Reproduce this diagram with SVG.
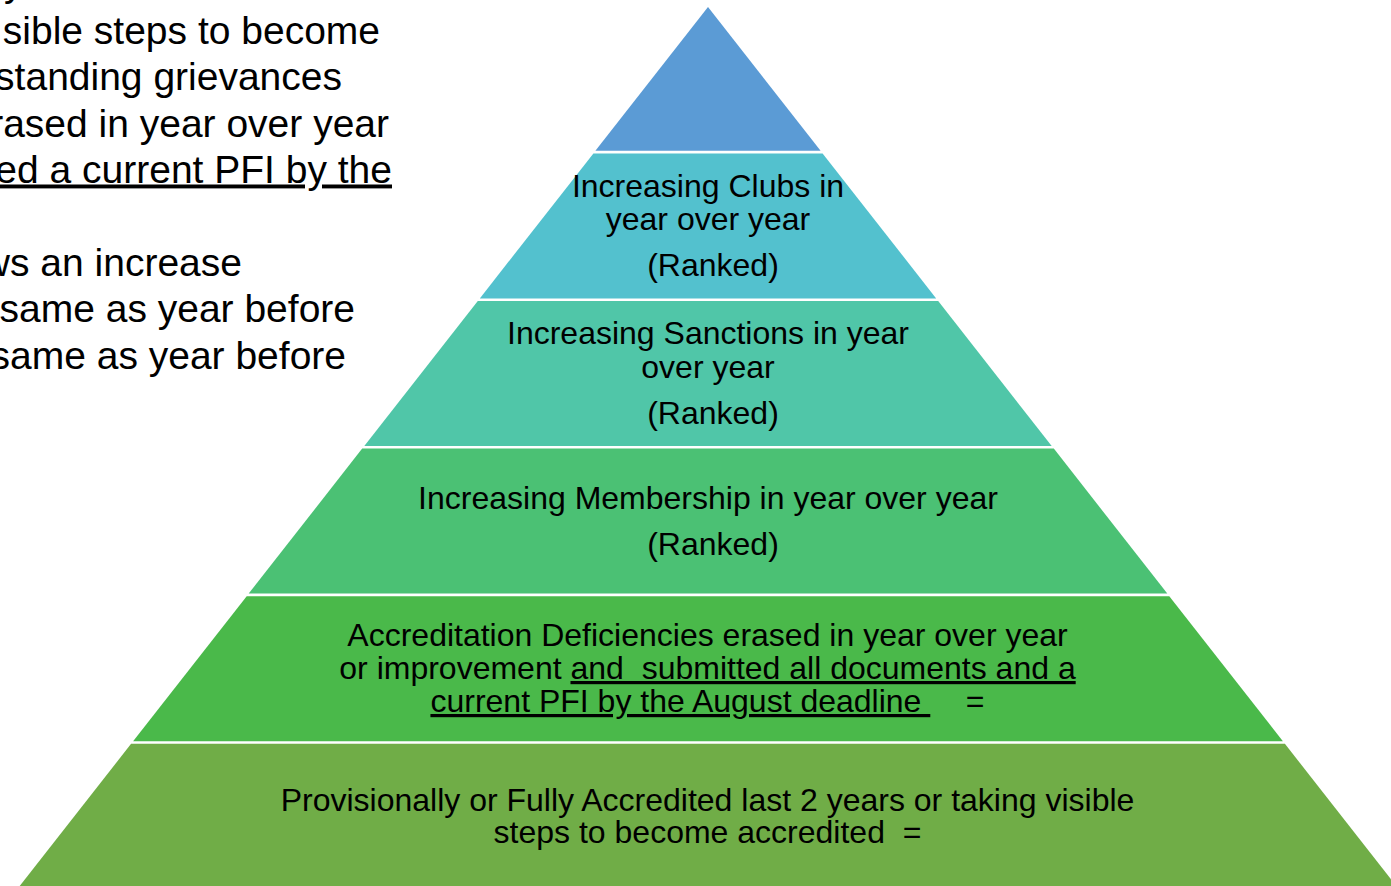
<svg xmlns="http://www.w3.org/2000/svg" width="1391" height="886" viewBox="0 0 1391 886">
  <style>
    .side { font-family: "Liberation Sans", Arial, sans-serif; font-size: 39px; fill: #000; }
    .lbl { font-family: "Liberation Sans", Arial, sans-serif; font-size: 32px; fill: #000; text-anchor: middle; }
    .u { text-decoration: underline; }
  </style>
  <rect width="1391" height="886" fill="#ffffff"/>

  <!-- side notes (text block running off the left edge) -->
  <g id="side-notes">
    <text class="side" x="4" y="-4">y</text>
    <text class="side" x="380" y="43.5" text-anchor="end">sible steps to become</text>
    <text class="side" x="342" y="90" text-anchor="end">standing grievances</text>
    <text class="side" x="389" y="136.5" text-anchor="end">rased in year over year</text>
    <text class="side u" x="392" y="182.5" text-anchor="end">ed a current PFI by the</text>
    <text class="side" x="242" y="275.5" text-anchor="end">ws an increase</text>
    <text class="side" x="355" y="322" text-anchor="end">same as year before</text>
    <text class="side" x="346" y="368.5" text-anchor="end">same as year before</text>
  </g>

  <!-- pyramid tiers, top to bottom -->
  <g id="tier-1">
    <polygon points="708,7 820.6,150.8 595.4,150.8" fill="#5B9BD5"/>
  </g>
  <g id="tier-2">
    <polygon points="593.4,153.4 822.6,153.4 936.2,298.4 479.8,298.4" fill="#53C1CE"/>
    <text class="lbl" x="708" y="197">Increasing Clubs in</text>
    <text class="lbl" x="708" y="230">year over year</text>
    <text class="lbl" x="713" y="276">(Ranked)</text>
  </g>
  <g id="tier-3">
    <polygon points="477.8,301 938.2,301 1051.7,446 364.3,446" fill="#50C6A8"/>
    <text class="lbl" x="708" y="344">Increasing Sanctions in year</text>
    <text class="lbl" x="708" y="378">over year</text>
    <text class="lbl" x="713" y="423.5">(Ranked)</text>
  </g>
  <g id="tier-4">
    <polygon points="362.2,448.6 1053.8,448.6 1167.3,593.6 248.7,593.6" fill="#4BC174"/>
    <text class="lbl" x="708" y="508.5">Increasing Membership in year over year</text>
    <text class="lbl" x="713" y="555">(Ranked)</text>
  </g>
  <g id="tier-5">
    <polygon points="246.7,596.2 1169.3,596.2 1282.9,741.2 133.1,741.2" fill="#4AB94A"/>
    <text class="lbl" x="707.5" y="646" xml:space="preserve">Accreditation Deficiencies erased in year over year</text>
    <text class="lbl" x="707.5" y="679" xml:space="preserve">or improvement <tspan class="u">and  submitted all documents and a</tspan></text>
    <text class="lbl" x="707.5" y="712" xml:space="preserve"><tspan class="u">current PFI by the August deadline </tspan>    =</text>
  </g>
  <g id="tier-6">
    <polygon points="131.1,743.8 1284.9,743.8 1401,892 15,892" fill="#70AD47"/>
    <text class="lbl" x="707.5" y="810.5" xml:space="preserve">Provisionally or Fully Accredited last 2 years or taking visible</text>
    <text class="lbl" x="707.5" y="843" xml:space="preserve">steps to become accredited  =</text>
  </g>

  <!-- no connectors in this figure -->
  <g id="connectors"/>
</svg>
